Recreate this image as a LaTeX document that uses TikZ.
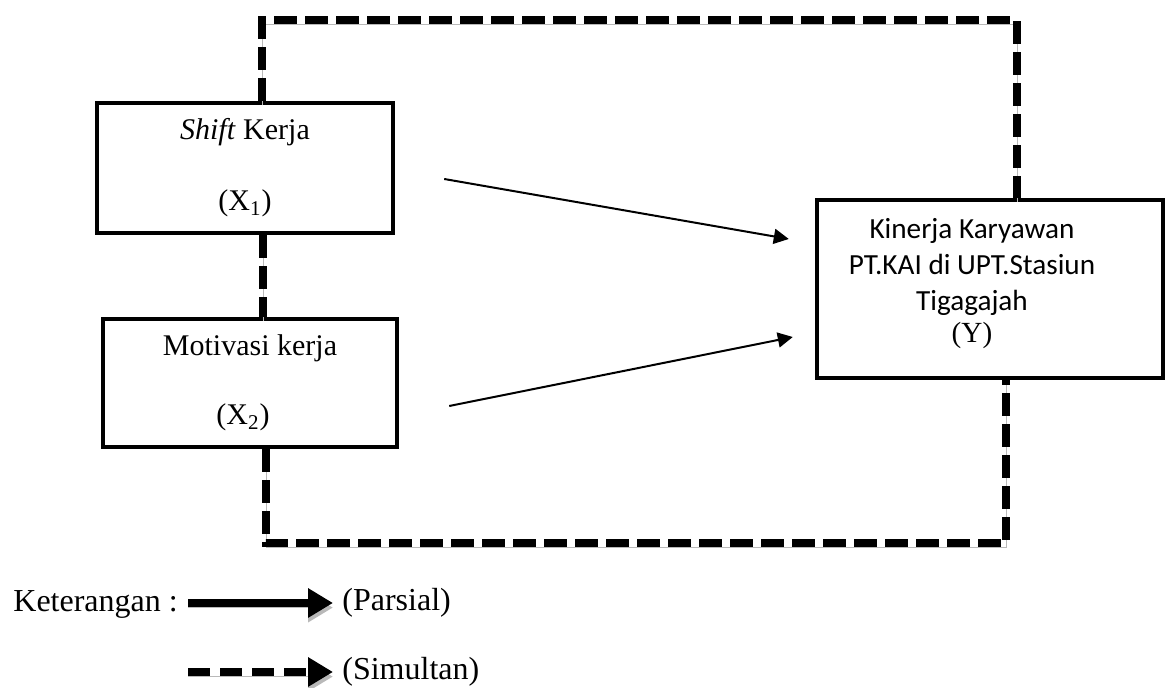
\documentclass[tikz,border=0pt]{standalone}
\usepackage{fontspec}
\setmainfont{Liberation Serif}
\newfontfamily\calibri{Carlito}
\usetikzlibrary{arrows.meta,positioning}

\tikzset{
	box/.style={draw, line width=2.2pt, align=center, inner sep=0pt,
		font=\fontsize{15pt}{18pt}\selectfont},
	parsial/.style={line width=1pt, -{Triangle[length=7.5pt,width=7.5pt]}},
	bayang/.style={preaction={draw=gray!55, transform canvas={yshift=-2.3pt}}},
	simultan/.style={bayang, line width=4pt, dash pattern=on 11.5pt off 4pt},
	ket/.style={font=\fontsize{16pt}{19.2pt}\selectfont}
}

\begin{document}
\begin{tikzpicture}[x=0.5pt, y=-0.5pt]
	\useasboundingbox (0,0) rectangle (1168,688);
	
	\node[box, minimum width=148pt, minimum height=65pt] (x1) at (245,168)
		{\textit{Shift} Kerja\\[17.6pt] (X\textsubscript{1})};
	\node[box, minimum width=147pt, minimum height=64pt] (x2) at (250,383)
		{Motivasi kerja\\[16.6pt] (X\textsubscript{2})\hspace*{7pt}};
	\node[box, minimum width=173pt, minimum height=89pt] (y) at (990,289) {};
	\node[align=center, font=\calibri\fontsize{14.6pt}{18pt}\selectfont] (ylab) at (972,284)
		{Kinerja Karyawan\\ PT.KAI di UPT.Stasiun\\ Tigagajah\\[-2pt] \rmfamily (Y)};
	
	% garis simultan
	\coordinate (tl) at (262,20);
	\coordinate (tr) at (1017,20);
	\coordinate (m) at (263,0);
	\coordinate (bl) at (266,543);
	\coordinate (br) at (1006,543);
	\draw[simultan] (tl |- x1.north) -- (tl) -- (tr) -- (tr |- y.north);
	\draw[simultan] (m |- x1.south) -- (m |- x2.north);
	\draw[simultan] (bl |- x2.south) -- (bl) -- (br) -- (br |- y.south);
	
	% garis parsial
	\draw[parsial] ([shift={(49,11)}]x1.east) -- ([shift={(-26,-50)}]y.west);
	\draw[parsial] ([shift={(50,23)}]x2.east) -- ([shift={(-22,48)}]y.west);
	
	% keterangan
	\node[ket, anchor=base west, inner sep=0pt] (k) at (13,612) {Keterangan :};
	\coordinate (p0) at (188,603);
	\coordinate (s0) at (188,672);
	\node[ket, anchor=west, inner sep=2pt] (pa) at (338,603) {(Parsial)};
	\node[ket, anchor=west, inner sep=2pt] (si) at (338,672) {(Simultan)};
	\draw[bayang, line width=4pt, shorten >=2.5pt, -{Triangle[length=12.5pt,width=14pt]}] (p0) -- (pa.west);
	\draw[bayang, line width=4pt, dash pattern=on 11pt off 5pt, shorten >=2.5pt,
		-{Triangle[length=12.5pt,width=14pt]}] (s0) -- (si.west);
\end{tikzpicture}
\end{document}
